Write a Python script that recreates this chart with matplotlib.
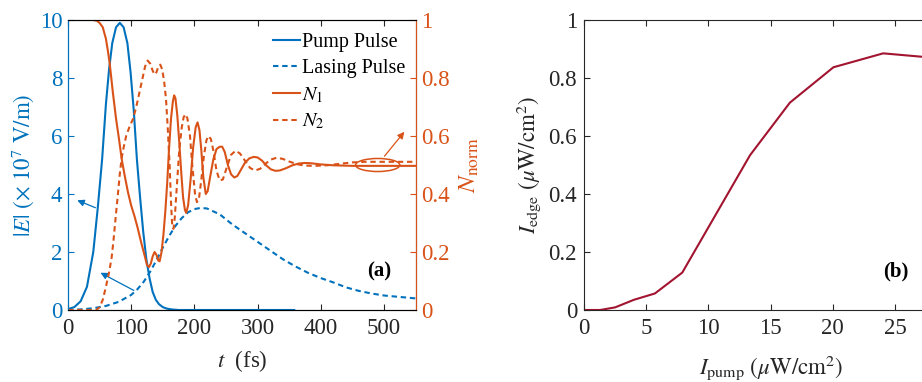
import numpy as np
import matplotlib.pyplot as plt
from matplotlib.patches import Ellipse

plt.rcParams['font.family'] = ['Liberation Serif', 'DejaVu Serif']
plt.rcParams['mathtext.fontset'] = 'stix'
plt.rcParams['font.size'] = 16.5

blue = '#0072BD'
orange = '#D95319'
dark = '#262626'
red = '#A2142F'
dash = (0, (2.6, 1.8))

# (a) pump pulse |E| (x 10^7 V/m) vs t (fs)
t_pump = [0, 10, 20, 30, 40, 47, 54, 60, 65, 70, 76, 82, 88, 94, 99, 104, 109, 114, 119, 124,
          129, 134, 139, 144, 150, 156, 164, 175, 190, 250, 300, 358]
E_pump = [0.03, 0.1, 0.3, 0.8, 2.0, 3.5, 5.2, 7.1, 8.3, 9.2, 9.75, 9.9, 9.75, 9.2, 8.2, 6.9, 5.2,
          3.9, 2.7, 1.75, 1.1, 0.62, 0.35, 0.2, 0.1, 0.05, 0.02, 0.0, 0.0, 0.0, 0.0, 0.0]

# (a) lasing pulse
t_las = [0, 20, 40, 60, 80, 100, 110, 120, 130, 140, 150, 160, 170, 180, 190, 200, 210, 220, 240,
         260, 280, 300, 320, 340, 360, 380, 400, 420, 440, 460, 480, 500, 525, 550]
E_las = [0.0, 0.02, 0.06, 0.14, 0.28, 0.52, 0.72, 0.98, 1.32, 1.72, 2.15, 2.55, 2.9, 3.17, 3.37,
         3.48, 3.52, 3.5, 3.3, 2.95, 2.65, 2.35, 2.05, 1.75, 1.5, 1.28, 1.1, 0.95, 0.78, 0.66,
         0.57, 0.5, 0.45, 0.4]

# (a) normalised populations
t_n1 = [0, 40, 46, 50, 55, 60, 63, 66, 71, 76, 81, 85, 90, 95, 100, 105, 110, 116, 121, 125, 128,
        131, 134, 137, 140, 143, 145, 148, 151, 154, 157, 160, 163, 166, 168, 170, 173, 176, 179,
        182, 185, 187, 190, 194, 198, 202, 205, 208, 211, 214, 218, 221, 225, 230, 235, 240, 244,
        248, 253, 258, 263, 268, 274, 280, 287, 294, 300, 307, 314, 321, 328, 335, 345, 355, 365,
        375, 385, 400, 420, 450, 500, 550]
N1 = [1.0, 1.0, 0.997, 0.99, 0.975, 0.935, 0.895, 0.85, 0.75, 0.66, 0.585, 0.52, 0.46, 0.405, 0.36,
      0.325, 0.285, 0.231, 0.19, 0.155, 0.148, 0.16, 0.185, 0.2, 0.19, 0.17, 0.168, 0.2, 0.26,
      0.34, 0.44, 0.56, 0.66, 0.72, 0.74, 0.73, 0.67, 0.58, 0.48, 0.39, 0.345, 0.335, 0.36, 0.45,
      0.56, 0.63, 0.647, 0.62, 0.55, 0.46, 0.40, 0.41, 0.46, 0.52, 0.555, 0.563, 0.563, 0.545,
      0.5, 0.468, 0.457, 0.462, 0.485, 0.508, 0.523, 0.528, 0.526, 0.515, 0.498, 0.485, 0.48,
      0.481, 0.489, 0.499, 0.505, 0.507, 0.506, 0.502, 0.499, 0.497, 0.497, 0.497]

t_n2 = [0, 45, 50, 55, 60, 65, 69, 72, 75, 79, 82, 85, 88, 92, 97, 103, 108, 113, 118, 122, 126,
        130, 134, 137, 140, 143, 146, 149, 152, 155, 158, 161, 163, 165, 167, 169, 172, 176, 180,
        183, 186, 189, 193, 197, 201, 204, 207, 211, 215, 219, 222, 226, 230, 235, 240, 245, 251,
        258, 265, 272, 280, 288, 296, 304, 312, 320, 330, 340, 350, 362, 375, 390, 410, 430, 450,
        470, 550]
N2 = [0.0, 0.0, 0.01, 0.035, 0.08, 0.13, 0.18, 0.24, 0.31, 0.40, 0.47, 0.525, 0.56, 0.6, 0.63,
      0.66, 0.7, 0.75, 0.8, 0.84, 0.86, 0.85, 0.825, 0.812, 0.82, 0.84, 0.846, 0.83, 0.79, 0.73,
      0.62, 0.49, 0.37, 0.285, 0.28, 0.32, 0.42, 0.55, 0.63, 0.665, 0.675, 0.66, 0.6, 0.49, 0.4,
      0.372, 0.38, 0.45, 0.53, 0.585, 0.6, 0.59, 0.55, 0.48, 0.447, 0.45, 0.49, 0.535, 0.549,
      0.54, 0.515, 0.49, 0.481, 0.487, 0.503, 0.518, 0.525, 0.521, 0.512, 0.503, 0.498, 0.497,
      0.499, 0.504, 0.509, 0.511, 0.511]

# (b) edge intensity vs pump intensity
I_pump = [0, 1.3, 2.5, 4.0, 5.7, 7.9, 13.35, 16.55, 20.05, 24.05, 27.5]
I_edge = [0, 0.0, 0.009, 0.035, 0.057, 0.129, 0.534, 0.715, 0.837, 0.885, 0.872]

fig = plt.figure(figsize=(9.22, 3.82), dpi=100)

# ---- panel (a)
ax1 = fig.add_axes([68 / 922, 72 / 382, 347.6 / 922, 290 / 382])
ax1.plot(t_pump, E_pump, color=blue, lw=1.5, label='Pump Pulse')
ax1.plot(t_las, E_las, color=blue, lw=1.5, ls=dash, label='Lasing Pulse')
ax1.set_xlim(0, 550)
ax1.set_ylim(0, 10)
ax1.set_xticks([0, 100, 200, 300, 400, 500])
ax1.set_yticks([0, 2, 4, 6, 8, 10])
ax1.set_xlabel(r'$t$  (fs)', color=dark, labelpad=6)
ax1.set_ylabel(r'$|E|\ (\times\ 10^7\ \mathrm{V/m})$', color=blue, labelpad=3)
ax1.tick_params(axis='x', direction='in', top=True, colors=dark, length=4, pad=6)
ax1.tick_params(axis='y', direction='in', colors=blue, length=4, pad=4)
ax1.spines['left'].set_color(blue)
ax1.spines['top'].set_color(dark)
ax1.spines['bottom'].set_color(dark)

ax1r = ax1.twinx()
ax1r.plot(t_n1, N1, color=orange, lw=1.5, label=r'$N_1$')
ax1r.plot(t_n2, N2, color=orange, lw=1.5, ls=dash, label=r'$N_2$')
ax1r.set_ylim(0, 1)
ax1r.set_yticks([0, 0.2, 0.4, 0.6, 0.8, 1])
ax1r.set_yticklabels(['0', '0.2', '0.4', '0.6', '0.8', '1'])
ax1r.tick_params(axis='y', direction='in', colors=orange, length=4, pad=4)
ax1r.spines['right'].set_color(orange)
ax1r.spines['left'].set_color(blue)
ax1r.set_ylabel(r'$N_{\rm norm}$', color=orange, fontsize=18, labelpad=6)

h1, l1 = ax1.get_legend_handles_labels()
h2, l2 = ax1r.get_legend_handles_labels()
ax1r.legend(h1 + h2, l1 + l2, loc='upper right', bbox_to_anchor=(413 / 922, 1 - 25 / 382),
            bbox_transform=fig.transFigure, frameon=False, handlelength=1.3, handletextpad=0.1,
            labelspacing=0.35, fontsize=14.5, borderaxespad=0)

ax1.annotate('', xy=(10.6, 3.82), xytext=(47.5, 3.49),
             arrowprops=dict(arrowstyle='-|>', color=blue, lw=0.9, mutation_scale=10))
ax1.annotate('', xy=(47.5, 1.33), xytext=(108, 0.63),
             arrowprops=dict(arrowstyle='-|>', color=blue, lw=0.9, mutation_scale=10))
ax1r.add_patch(Ellipse((490, 0.5), 70, 0.045, fill=False, edgecolor=orange, lw=1.1))
ax1r.annotate('', xy=(535, 0.622), xytext=(498, 0.523),
              arrowprops=dict(arrowstyle='-|>', color=orange, lw=0.9, mutation_scale=10))
ax1.text(493, 1.33, '(a)', fontweight='bold', ha='center', va='center', fontsize=15, color='k')

# ---- panel (b)
ax2 = fig.add_axes([584 / 922, 72 / 382, 373.2 / 922, 290 / 382])
ax2.plot(I_pump, I_edge, color=red, lw=1.5)
ax2.set_xlim(0, 30)
ax2.set_ylim(0, 1)
ax2.set_xticks([0, 5, 10, 15, 20, 25])
ax2.set_yticks([0, 0.2, 0.4, 0.6, 0.8, 1])
ax2.set_yticklabels(['0', '0.2', '0.4', '0.6', '0.8', '1'])
ax2.tick_params(direction='in', top=True, right=True, colors=dark, length=4)
ax2.tick_params(axis='x', pad=6)
ax2.tick_params(axis='y', pad=5)
for s in ax2.spines.values():
    s.set_color(dark)
ax2.set_xlabel(r'$I_{\rm pump}\ (\mu\mathrm{W/cm}^2)$', color=dark, labelpad=10)
ax2.set_ylabel(r'$I_{\rm edge}\ (\mu\mathrm{W/cm}^2)$', color=dark, labelpad=4)
ax2.text(25.1, 0.132, '(b)', fontweight='bold', ha='center', va='center', fontsize=15, color='k')

fig.savefig('out.png', dpi=100)
